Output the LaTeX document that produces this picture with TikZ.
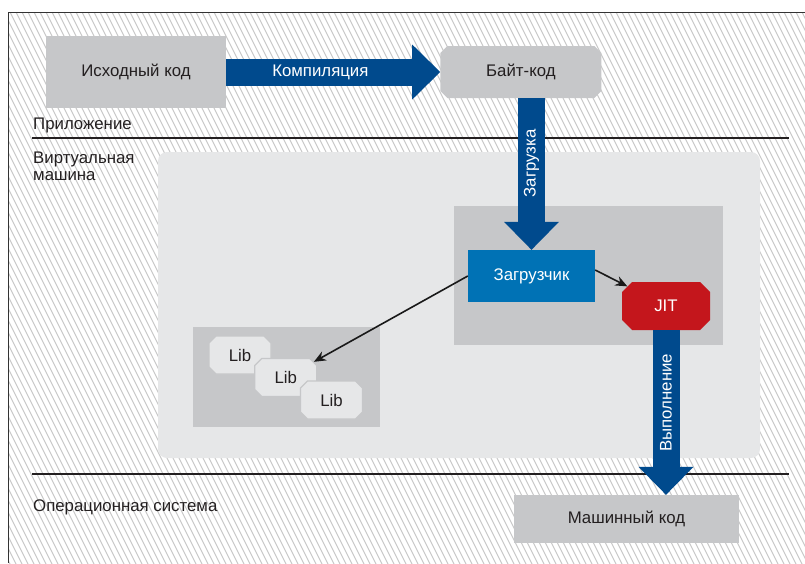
\documentclass[tikz,border=0pt]{standalone}
\usepackage{fontspec}
\setmainfont{Liberation Sans}
\usepackage{tikz}
\usetikzlibrary{arrows.meta, positioning, calc, shapes.misc}
\definecolor{boxgray}{RGB}{198,199,201}
\definecolor{vmgray}{RGB}{230,231,232}
\definecolor{flowblue}{RGB}{0,74,141}
\definecolor{loaderblue}{RGB}{0,114,181}
\definecolor{jitred}{RGB}{196,22,28}
\definecolor{textdark}{RGB}{35,31,32}
\definecolor{hatchgray}{RGB}{200,200,200}
\tikzset{
  basebox/.style={
    rectangle, inner sep=0pt, align=center, text=textdark, font=\fontsize{16.8}{19}\selectfont
  },
  codebox/.style={basebox, fill=boxgray},
  chamferbox/.style={basebox, chamfered rectangle, chamfered rectangle xsep=3.5pt, chamfered rectangle ysep=3.5pt},
  areabox/.style={rectangle, fill=boxgray, inner sep=0pt},
  vmbox/.style={rectangle, fill=vmgray, rounded corners=9pt, inner sep=0pt},
  loaderbox/.style={basebox, fill=loaderblue, text=white, minimum width=127pt, minimum height=52pt},
  jitbox/.style={chamferbox, fill=jitred, text=white, chamfered rectangle xsep=5pt,
    chamfered rectangle ysep=5pt, minimum width=88pt, minimum height=48pt},
  libbox/.style={chamferbox, fill=vmgray, draw=boxgray, line width=1.2pt, minimum width=62pt, minimum height=38pt},
  layerlabel/.style={anchor=base west, inner sep=0pt, text=textdark, font=\fontsize{16.8}{17}\selectfont},
  flowlabel/.style={text=white, inner sep=0pt, font=\fontsize{16.8}{19}\selectfont},
  bigarrow/.style={draw=flowblue, line width=27pt, -{Triangle[width=55pt, length=28pt, line width=0pt]}},
  arrow/.style={draw=black!90, line width=1.6pt, -{Stealth[length=12pt, width=10pt]}},
  hatchline/.style={draw=hatchgray, line width=1pt},
  layerrule/.style={draw=textdark, line width=2pt},
  framerule/.style={draw=black!80, line width=1pt}
}
\begin{document}
\begin{tikzpicture}[x=1pt, y=-1pt]
  \useasboundingbox (0,0) rectangle (805,563);
  % hatched frame
  \begin{scope}
    \clip (8,12) rectangle (805,563);
    \foreach \k in {0,...,185}
      \draw[hatchline] ({6*\k-290},12) -- ++(280,560);
  \end{scope}
  \draw[framerule] (8,563) -- (8,12) -- (805,12);

  % layers
  \draw[layerrule] (32,138) -- (789,138);
  \draw[layerrule] (32,474) -- (789,474);
  \node[layerlabel] (applabel) at (33,129) {Приложение};
  \node[layerlabel, align=left] (vmlabel) at (33,180) {Виртуальная\\машина};
  \node[layerlabel] (oslabel) at (33,511) {Операционная система};

  % virtual machine
  \node[vmbox, minimum width=602pt, minimum height=306pt] (vm) at (459,305) {};
  \node[areabox, minimum width=269pt, minimum height=139pt] (jitarea) at (588.5,275.5) {};
  \node[areabox, minimum width=187pt, minimum height=100pt] (libarea) at (286.5,377) {};

  \node[codebox, minimum width=180pt, minimum height=72pt] (src) at (136,72) {Исходный код};
  \node[chamferbox, fill=boxgray, minimum width=161pt, minimum height=52pt, right=214pt of src] (byte) {Байт-код};
  \node[loaderbox] (loader) at (531.5,276) {Загрузчик};
  \node[jitbox] (jit) at (666,306) {JIT};
  \foreach \i in {1,2,3}
    \node[libbox] (lib\i) at ({240+45.75*(\i-1)}, {355+22.5*(\i-1)}) {Lib};
  \node[codebox, minimum width=225pt, minimum height=48pt] (mcode) at (626.5,519) {Машинный код};

  % flows
  \draw[bigarrow] (src.east) -- node[flowlabel, pos=0.44] {Компиляция} (byte.west);
  \draw[bigarrow] (loader.north |- byte.south) -- node[flowlabel, rotate=90, pos=0.43] {Загрузка} (loader.north);
  \draw[bigarrow] (jit.south) -- node[flowlabel, rotate=90, pos=0.44] {Выполнение} (jit.south |- mcode.north);
  \draw[arrow] ($(loader.east)+(0,-6)$) -- (jit);
  \draw[arrow] (loader.west) -- (lib2);
\end{tikzpicture}
\end{document}
